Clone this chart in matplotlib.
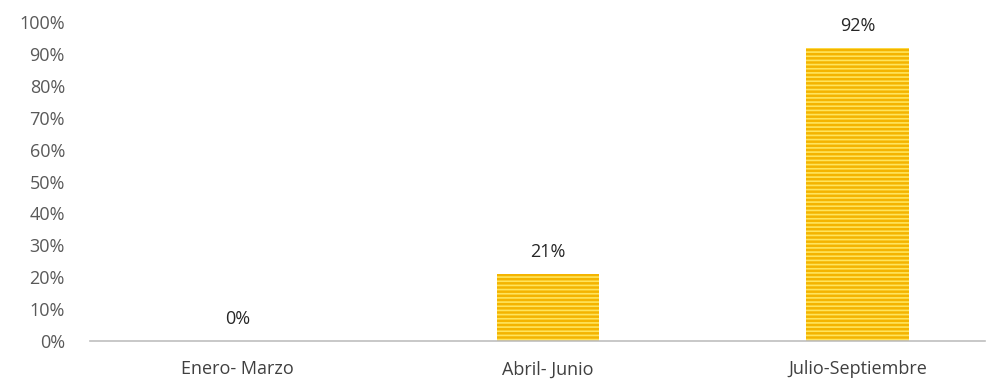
import matplotlib
matplotlib.use("Agg")
import matplotlib.pyplot as plt
from matplotlib.ticker import PercentFormatter

# avance por trimestre
trimestres = ["Enero- Marzo", "Abril- Junio", "Julio-Septiembre"]
avance = [0.00, 0.21, 0.92]
ticks_y = [0.0, 0.1, 0.2, 0.3, 0.4, 0.5, 0.6, 0.7, 0.8, 0.9, 1.0]

plt.rcParams["font.family"] = ["Open Sans", "DejaVu Sans"]
plt.rcParams["hatch.linewidth"] = 1.2

fig = plt.figure(figsize=(9.94, 3.87), dpi=100, facecolor="white")
ax = fig.add_axes([0.0905, 0.119, 0.9, 0.824])

x = range(len(trimestres))
bars = ax.bar(x, avance, width=0.33, color="#F4B400", edgecolor="#FFE45C",
              hatch="----", linewidth=0)

for b, v in zip(bars, avance):
    ax.annotate("{:.0f}%".format(v * 100), (b.get_x() + b.get_width() / 2, v),
                xytext=(0, 9), textcoords="offset points", ha="center",
                va="bottom", fontsize=13, color="#262626")

ax.set_ylim(0, 1.0)
ax.set_xlim(-0.477, 2.41)
ax.set_yticks(ticks_y)
ax.yaxis.set_major_formatter(PercentFormatter(1.0, decimals=0))
ax.set_xticks(list(x))
ax.set_xticklabels(trimestres)

for s in ["top", "right", "left"]:
    ax.spines[s].set_visible(False)
ax.spines["bottom"].set_color("#BFBFBF")
ax.spines["bottom"].set_linewidth(1.2)

ax.tick_params(axis="y", length=0, pad=18, labelsize=13, labelcolor="#595959")
ax.tick_params(axis="x", length=0, pad=14, labelsize=13, labelcolor="#404040")

fig.savefig("out.png", dpi=100, facecolor="white")
